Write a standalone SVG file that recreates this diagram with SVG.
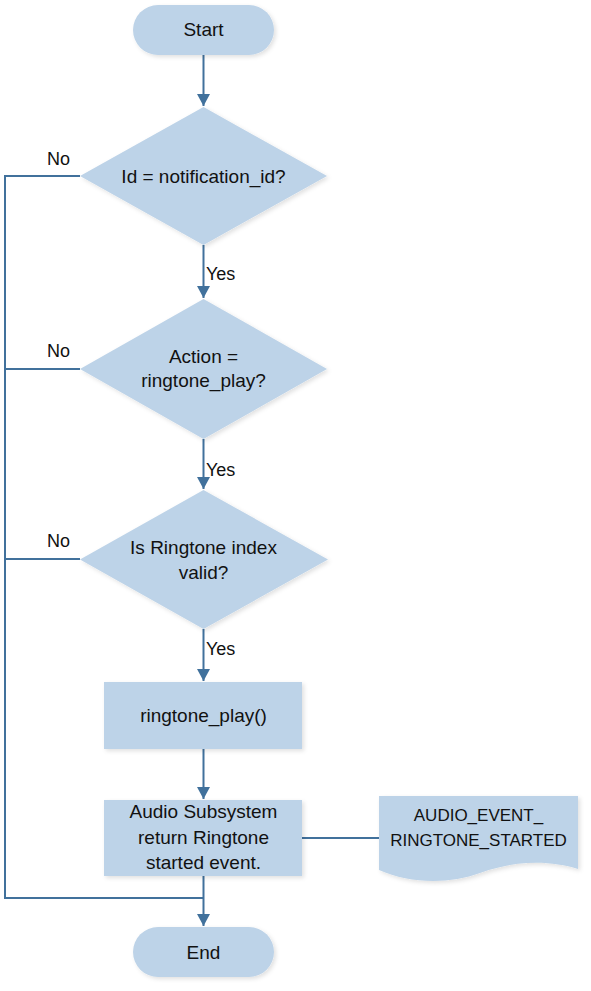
<svg xmlns="http://www.w3.org/2000/svg" width="591" height="991" viewBox="0 0 591 991">
<defs>
<filter id="sh" x="-10%" y="-10%" width="130%" height="130%">
<feDropShadow dx="2" dy="2" stdDeviation="2" flood-color="#000" flood-opacity="0.12"/>
</filter>
<marker id="ah" viewBox="0 0 12 13" refX="12" refY="6.5" markerWidth="12" markerHeight="13" markerUnits="userSpaceOnUse" orient="auto">
<path d="M0,0 L12,6.5 L0,13 Z" fill="#41719C"/>
</marker>
</defs>
<style>
.s{fill:#BDD3E8;filter:url(#sh)}
.t{font-family:"Liberation Sans",Arial,sans-serif;font-size:19px;fill:#111;text-anchor:middle}
.l{font-family:"Liberation Sans",Arial,sans-serif;font-size:18px;fill:#111}
.c{fill:none;stroke:#41719C;stroke-width:2}
</style>
<rect width="591" height="991" fill="#fff"/>
<g id="connectors">
<path class="c" d="M203.5,55 V106" marker-end="url(#ah)"/>
<path class="c" d="M203.5,245 V298" marker-end="url(#ah)"/>
<path class="c" d="M203.5,439 V489" marker-end="url(#ah)"/>
<path class="c" d="M203.5,629 V681" marker-end="url(#ah)"/>
<path class="c" d="M203.5,749 V799" marker-end="url(#ah)"/>
<path class="c" d="M203.5,876 V926" marker-end="url(#ah)"/>
<path class="c" d="M80,176 H5 V898 H203.5"/>
<path class="c" d="M80,369 H5"/>
<path class="c" d="M80,559 H5"/>
<path class="c" d="M302,838 H379"/>
<text class="l" x="206" y="280">Yes</text>
<text class="l" x="206" y="476">Yes</text>
<text class="l" x="206" y="655">Yes</text>
<text class="l" x="47" y="165">No</text>
<text class="l" x="47" y="357">No</text>
<text class="l" x="47" y="547">No</text>
</g>
<g id="start">
<rect class="s" x="133" y="5" width="141" height="50" rx="25"/>
<text class="t" x="203.5" y="36">Start</text>
</g>
<g id="d1">
<path class="s" d="M203.5,107 L327,176 L203.5,245 L80,176 Z"/>
<text class="t" x="203.5" y="183">Id = notification_id?</text>
</g>
<g id="d2">
<path class="s" d="M203.5,299 L327,369 L203.5,439 L80,369 Z"/>
<text class="t" x="203.5" y="363">Action =</text>
<text class="t" x="203.5" y="387">ringtone_play?</text>
</g>
<g id="d3">
<path class="s" d="M203.5,490 L328,559.5 L203.5,629 L80,559.5 Z"/>
<text class="t" x="203.5" y="554">Is Ringtone index</text>
<text class="t" x="203.5" y="579">valid?</text>
</g>
<g id="play">
<rect class="s" x="104" y="682" width="198" height="67"/>
<text class="t" x="203.5" y="722">ringtone_play()</text>
</g>
<g id="audio">
<rect class="s" x="104" y="800" width="198" height="76"/>
<text class="t" x="203.5" y="818">Audio Subsystem</text>
<text class="t" x="203.5" y="844">return Ringtone</text>
<text class="t" x="203.5" y="869">started event.</text>
</g>
<g id="event">
<path class="s" d="M379,796 H578 V869 C550,860 515,860 480,873 C450,884 410,884 379,870 Z"/>
<text class="t" x="478.5" y="821" style="font-size:17px">AUDIO_EVENT_</text>
<text class="t" x="478.5" y="846" style="font-size:17px">RINGTONE_STARTED</text>
</g>
<g id="end">
<rect class="s" x="133" y="927" width="141" height="50" rx="25"/>
<text class="t" x="203.5" y="959">End</text>
</g>
</svg>
